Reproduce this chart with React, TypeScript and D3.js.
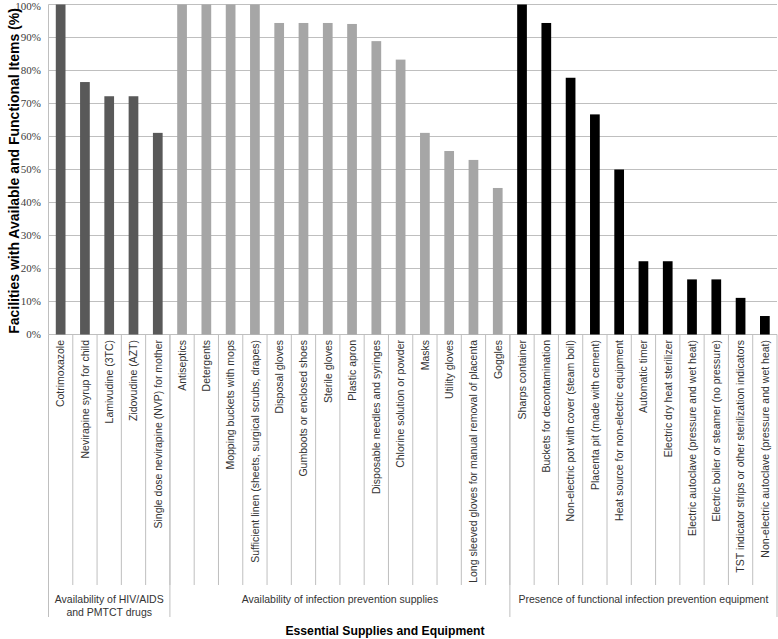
import React from "react";
import * as d3 from "d3";

const hivItems = [
  "Cotrimoxazole",
  "Nevirapine syrup for child",
  "Lamivudine (3TC)",
  "Zidovudine (AZT)",
  "Single dose nevirapine (NVP) for mother",
];
const hivValues = [100, 76.5, 72.2, 72.2, 61.1];

const supplyItems = [
  "Antiseptics",
  "Detergents",
  "Mopping buckets with mops",
  "Sufficient linen (sheets, surgical scrubs, drapes)",
  "Disposal gloves",
  "Gumboots or enclosed shoes",
  "Sterile gloves",
  "Plastic apron",
  "Disposable needles and syringes",
  "Chlorine solution or powder",
  "Masks",
  "Utility gloves",
  "Long sleeved gloves for manual removal of placenta",
  "Goggles",
];
const supplyValues = [100, 100, 100, 100, 94.4, 94.4, 94.4, 94.1, 88.9, 83.3, 61.1, 55.6, 52.9, 44.4];

const equipItems = [
  "Sharps container",
  "Buckets for decontamination",
  "Non-electric pot with cover (steam boil)",
  "Placenta pit (made with cement)",
  "Heat source for non-electric equipment",
  "Automatic timer",
  "Electric dry heat sterilizer",
  "Electric autoclave (pressure and wet heat)",
  "Electric boiler or steamer (no pressure)",
  "TST indicator strips or other sterilization indicators",
  "Non-electric autoclave (pressure and wet heat)",
];
const equipValues = [100, 94.4, 77.8, 66.7, 50, 22.2, 22.2, 16.7, 16.7, 11.1, 5.6];

const groupLabels = [
  ["Availability of HIV/AIDS", "and PMTCT drugs"],
  ["Availability of infection prevention supplies"],
  ["Presence of functional infection prevention equipment"],
];
const groupColors = ["#595959", "#a6a6a6", "#000000"];
const yTicks = [0, 10, 20, 30, 40, 50, 60, 70, 80, 90, 100];

const yTitle = "Facilities with Available and Functional Items (%)";
const xTitle = "Essential Supplies and Equipment";

type Row = { name: string; value: number; group: number };

const rows: Row[] = [
  ...hivItems.map((n, i) => ({ name: n, value: hivValues[i], group: 0 })),
  ...supplyItems.map((n, i) => ({ name: n, value: supplyValues[i], group: 1 })),
  ...equipItems.map((n, i) => ({ name: n, value: equipValues[i], group: 2 })),
];

const W = 778;
const H = 639;
const left = 48.5;
const right = 777;
const top = 4.5;
const bottom = 334.5;

export default function App() {
  const x = d3
    .scaleBand<string>()
    .domain(rows.map((r) => r.name))
    .range([left, right])
    .paddingInner(0)
    .paddingOuter(0);
  const y = d3.scaleLinear().domain([0, 100]).range([bottom, top]);
  const step = x.step();
  const barW = step * 0.4;

  const groupSizes = [hivItems.length, supplyItems.length, equipItems.length];
  const groupBounds: [number, number][] = [];
  let acc = 0;
  groupSizes.forEach((s) => {
    groupBounds.push([left + acc * step, left + (acc + s) * step]);
    acc += s;
  });

  const gridColor = "#bfbfbf";

  return (
    <svg width={W} height={H} style={{ position: "absolute", left: 0, top: 0, background: "#fff" }}>
      <rect x={0} y={0} width={W} height={H} fill="#fff" />
      {/* gridlines */}
      {yTicks.map((t) => (
        <line key={t} x1={left} x2={right} y1={y(t)} y2={y(t)} stroke={gridColor} strokeWidth={1} />
      ))}
      {/* y axis line */}
      <line x1={left} x2={left} y1={top} y2={bottom} stroke={gridColor} strokeWidth={1} />
      {/* y tick labels */}
      {yTicks.map((t) => (
        <text
          key={"l" + t}
          x={41}
          y={y(t)}
          dy={t === 100 ? "0.5em" : "0.35em"}
          textAnchor="end"
          fontFamily="'Liberation Serif', 'Times New Roman', serif"
          fontSize={11}
          fill="#404040"
        >
          {t}%
        </text>
      ))}
      {/* bars */}
      {rows.map((r) => {
        const cx = (x(r.name) as number) + step / 2;
        return (
          <rect
            key={r.name}
            x={cx - barW / 2}
            y={y(r.value)}
            width={barW}
            height={bottom - y(r.value)}
            fill={groupColors[r.group]}
          />
        );
      })}
      {/* category dividers */}
      {rows.map((r, i) => {
        if (i === 0) return null;
        const xx = x(r.name) as number;
        return <line key={"d" + i} x1={xx} x2={xx} y1={bottom} y2={585} stroke={gridColor} strokeWidth={1} />;
      })}
      {/* group dividers */}
      {[groupBounds[0][0], ...groupBounds.map((b) => b[1])].map((xx, i) => (
        <line key={"g" + i} x1={xx} x2={xx} y1={bottom} y2={617} stroke={gridColor} strokeWidth={1} />
      ))}
      {/* category labels */}
      {rows.map((r) => {
        const cx = (x(r.name) as number) + step / 2;
        return (
          <text
            key={"t" + r.name}
            transform={`translate(${cx},${340}) rotate(-90)`}
            dy="0.36em"
            textAnchor="end"
            fontFamily="'Liberation Sans', Arial, sans-serif"
            fontSize={10.5}
            fill="#333"
          >
            {r.name}
          </text>
        );
      })}
      {/* group labels */}
      {groupLabels.map((lines, gi) => {
        const cx = (groupBounds[gi][0] + groupBounds[gi][1]) / 2;
        return (
          <text
            key={"gl" + gi}
            x={cx}
            textAnchor="middle"
            fontFamily="'Liberation Sans', Arial, sans-serif"
            fontSize={10.5}
            fill="#333"
          >
            {lines.map((ln, li) => (
              <tspan key={li} x={cx} y={602.5 + li * 13}>
                {ln}
              </tspan>
            ))}
          </text>
        );
      })}
      {/* axis titles */}
      <text
        transform={`translate(${14},${171}) rotate(-90)`}
        dy="0.35em"
        textAnchor="middle"
        fontFamily="'Liberation Sans', Arial, sans-serif"
        fontWeight="bold"
        fontSize={14}
        fill="#000"
      >
        {yTitle}
      </text>
      <text
        x={385}
        y={635}
        textAnchor="middle"
        fontFamily="'Liberation Sans', Arial, sans-serif"
        fontWeight="bold"
        fontSize={12.2}
        fill="#000"
      >
        {xTitle}
      </text>
    </svg>
  );
}
